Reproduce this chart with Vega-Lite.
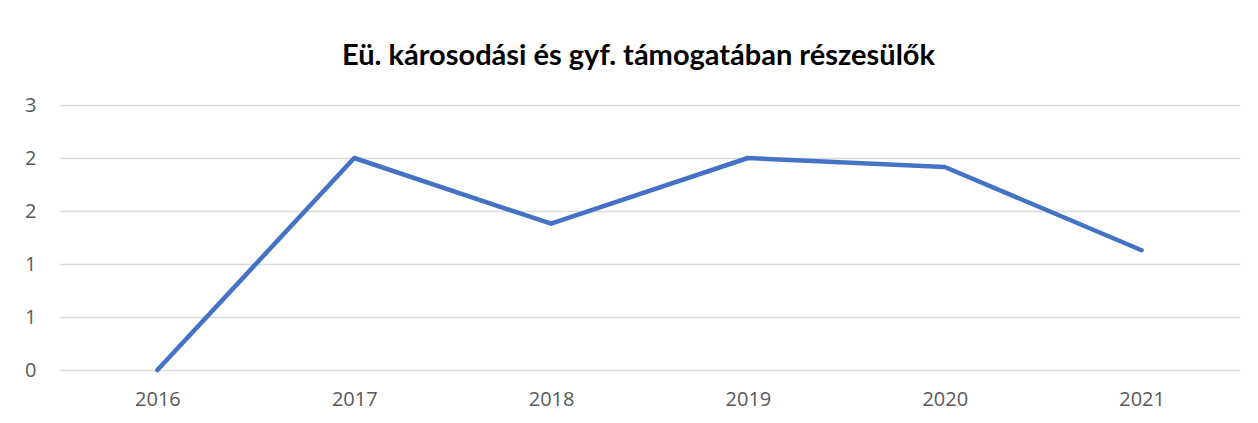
{
  "$schema": "https://vega.github.io/schema/vega-lite/v6.json",
  "width": 1181,
  "height": 265,
  "autosize": {"type": "none"},
  "padding": {"left": 59, "top": 105, "right": 18, "bottom": 53},
  "background": "white",
  "title": {
    "text": "Eü. károsodási és gyf. támogatában részesülők",
    "font": "Lato",
    "fontSize": 29,
    "fontWeight": "bold",
    "color": "#000000",
    "anchor": "middle",
    "baseline": "alphabetic",
    "dx": -11,
    "offset": 1
  },
  "data": {
    "values": [
      {"ev": "2016", "ertek": 0},
      {"ev": "2017", "ertek": 2},
      {"ev": "2018", "ertek": 1.38},
      {"ev": "2019", "ertek": 2},
      {"ev": "2020", "ertek": 1.915},
      {"ev": "2021", "ertek": 1.13}
    ]
  },
  "mark": {"type": "line", "color": "#4472C4", "strokeWidth": 4.5, "strokeCap": "round", "strokeJoin": "round"},
  "encoding": {
    "x": {
      "field": "ev",
      "type": "ordinal",
      "scale": {"type": "point", "padding": 0.5},
      "axis": {
        "title": null,
        "labelAngle": 0,
        "ticks": false,
        "domain": false,
        "grid": false,
        "labelFont": "Open Sans",
        "labelFontSize": 20,
        "labelColor": "#595959",
        "labelPadding": 19
      }
    },
    "y": {
      "field": "ertek",
      "type": "quantitative",
      "scale": {"domain": [0, 2.5], "nice": false},
      "axis": {
        "title": null,
        "values": [0, 0.5, 1, 1.5, 2, 2.5],
        "format": ".0f",
        "labelExpr": "datum.value === 0.5 ? '1' : datum.value === 1.5 ? '2' : datum.value === 2.5 ? '3' : datum.label",
        "ticks": false,
        "domain": false,
        "grid": true,
        "gridColor": "#D9D9D9",
        "gridWidth": 1.5,
        "labelFont": "Open Sans",
        "labelFontSize": 20,
        "labelColor": "#595959",
        "labelPadding": 23
      }
    }
  },
  "config": {"view": {"stroke": null}}
}
